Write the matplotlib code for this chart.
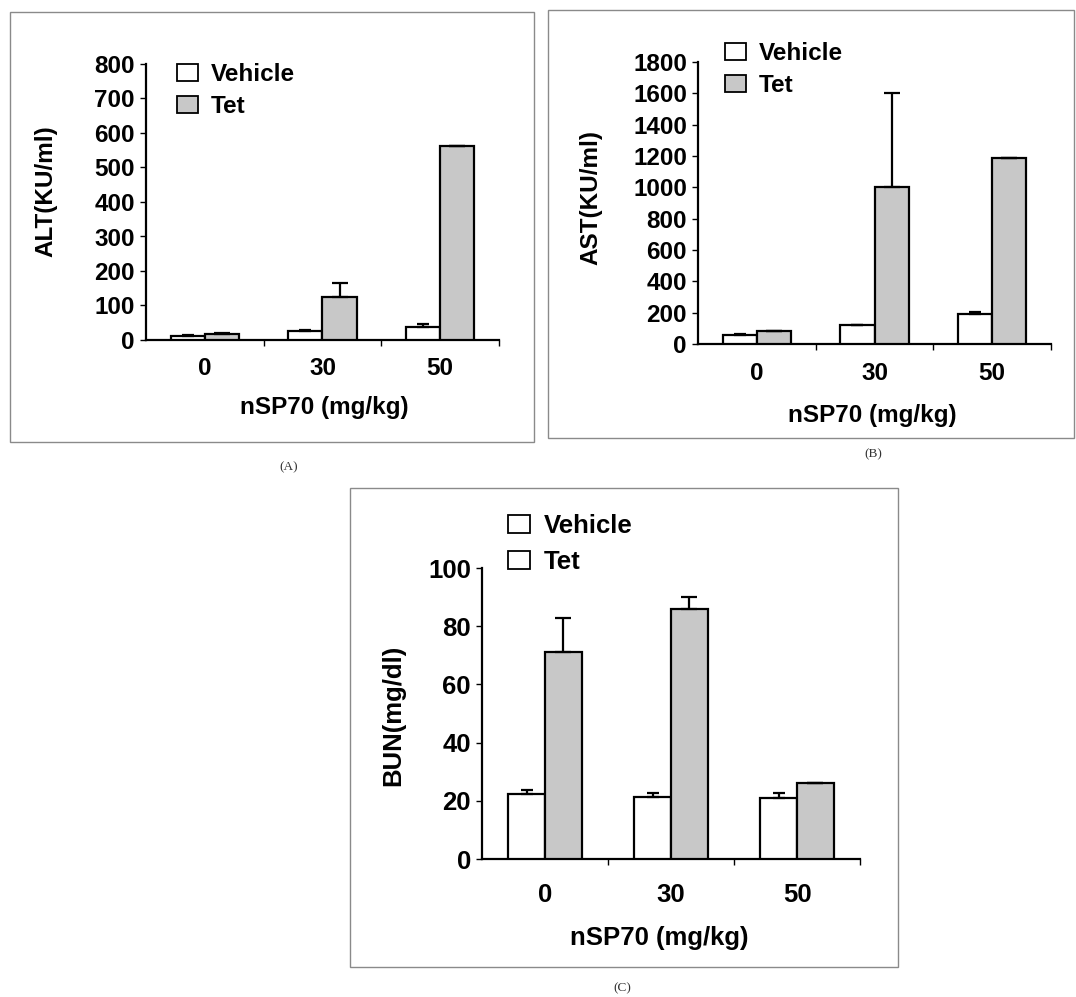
import numpy as np
import matplotlib
matplotlib.use('Agg')
import matplotlib.pyplot as plt
from matplotlib.patches import Patch, Rectangle

plt.rcParams['font.family'] = 'Liberation Sans'
plt.rcParams['font.weight'] = 'bold'

doses = ['0', '30', '50']

# ALT (KU/ml)
alt_vehicle = [12, 27, 37]
alt_vehicle_err = [2, 2, 10]
alt_tet = [17, 126, 562]
alt_tet_err = [2, 39, 0]

# AST (KU/ml)
ast_vehicle = [55, 120, 190]
ast_vehicle_err = [8, 0, 12]
ast_tet = [80, 1000, 1185]
ast_tet_err = [0, 600, 0]

# BUN (mg/dl)
bun_vehicle = [22.3, 21.2, 21.0]
bun_vehicle_err = [1.5, 1.5, 1.7]
bun_tet = [71, 86, 26.1]
bun_tet_err = [11.7, 4.1, 0]

W, H = 1076, 997
fig = plt.figure(figsize=(W / 100, H / 100), dpi=100)


def fx(px):
    return px / W


def fy(py):
    return 1 - py / H


def draw_panel(rect, veh, veh_err, tet, tet_err, ymax, ystep, ylabel,
               ylab_xy, xlab_xy, leg_xy, tet_leg_color, fs, legsp, xpad):
    left, top, right, bottom = rect
    ax = fig.add_axes([fx(left), fy(bottom), fx(right - left), (bottom - top) / H])
    x = np.arange(len(doses))
    w = 0.29
    ax.bar(x - w / 2, veh, w, color='white', edgecolor='black', linewidth=1.6,
           yerr=[np.zeros(3), veh_err], capsize=4,
           error_kw=dict(elinewidth=1.6, capthick=1.6, ecolor='black'), zorder=3)
    ax.bar(x + w / 2, tet, w, color='#c8c8c8', edgecolor='black', linewidth=1.6,
           yerr=[np.zeros(3), tet_err], capsize=6,
           error_kw=dict(elinewidth=1.6, capthick=1.6, ecolor='black'), zorder=3)
    ax.set_xlim(-0.5, 2.5)
    ax.set_ylim(0, ymax)
    ax.set_yticks(np.arange(0, ymax + 1, ystep))
    ax.set_xticks(x)
    ax.set_xticklabels(doses)
    ax.set_xticks([0.5, 1.5, 2.5], minor=True)
    ax.tick_params(axis='x', which='major', length=0, pad=xpad, labelsize=fs)
    ax.tick_params(axis='x', which='minor', length=4, width=1, direction='out')
    ax.tick_params(axis='y', length=4, width=1, pad=4, labelsize=fs)
    for s in ['top', 'right']:
        ax.spines[s].set_visible(False)
    for s in ['left', 'bottom']:
        ax.spines[s].set_linewidth(1.6)
    ax.set_ylabel(ylabel, fontsize=fs, fontweight='bold', va='center')
    ax.yaxis.set_label_coords(*ylab_xy)
    ax.set_xlabel('nSP70 (mg/kg)', fontsize=fs, fontweight='bold', va='center')
    ax.xaxis.set_label_coords(*xlab_xy)
    handles = [Patch(facecolor='white', edgecolor='black', linewidth=1.3, label='Vehicle'),
               Patch(facecolor=tet_leg_color, edgecolor='black', linewidth=1.3, label='Tet')]
    ax.legend(handles=handles, loc='upper left', bbox_to_anchor=leg_xy, frameon=False,
              fontsize=fs, handlelength=0.86, handleheight=0.7, handletextpad=0.53,
              labelspacing=legsp, borderpad=0, borderaxespad=0)
    return ax


# panel A
draw_panel((146, 64, 499, 340), alt_vehicle, alt_vehicle_err, alt_tet, alt_tet_err,
           800, 100, 'ALT(KU/ml)', (-0.283, 0.54), (0.504, -0.246), (0.088, 1.005),
           '#c8c8c8', 17.5, 0.37, 12)
# panel B
draw_panel((698, 62, 1051, 344), ast_vehicle, ast_vehicle_err, ast_tet, ast_tet_err,
           1800, 200, 'AST(KU/ml)', (-0.303, 0.518), (0.493, -0.252), (0.076, 1.072),
           '#c8c8c8', 17.5, 0.37, 13)
# panel C
draw_panel((482, 568, 860, 859), bun_vehicle, bun_vehicle_err, bun_tet, bun_tet_err,
           100, 20, 'BUN(mg/dl)', (-0.235, 0.495), (0.47, -0.271), (0.069, 1.186),
           'white', 18.5, 0.49, 17)

# thin gray frames around each panel
for (x0, y0, x1, y1) in [(10, 12, 534, 442), (548, 10, 1074, 438), (350, 488, 898, 967)]:
    fig.add_artist(Rectangle((fx(x0), fy(y1)), fx(x1 - x0), (y1 - y0) / H,
                             transform=fig.transFigure, fill=False,
                             edgecolor='#8a8a8a', linewidth=1.0))

for lab, px, py in [('(A)', 289, 467), ('(B)', 873, 454), ('(C)', 622, 988)]:
    fig.text(fx(px), fy(py), lab, ha='center', va='center', fontsize=9.5,
             family='Liberation Serif', fontweight='normal', color='#333333')

fig.savefig('out.png', dpi=100)
